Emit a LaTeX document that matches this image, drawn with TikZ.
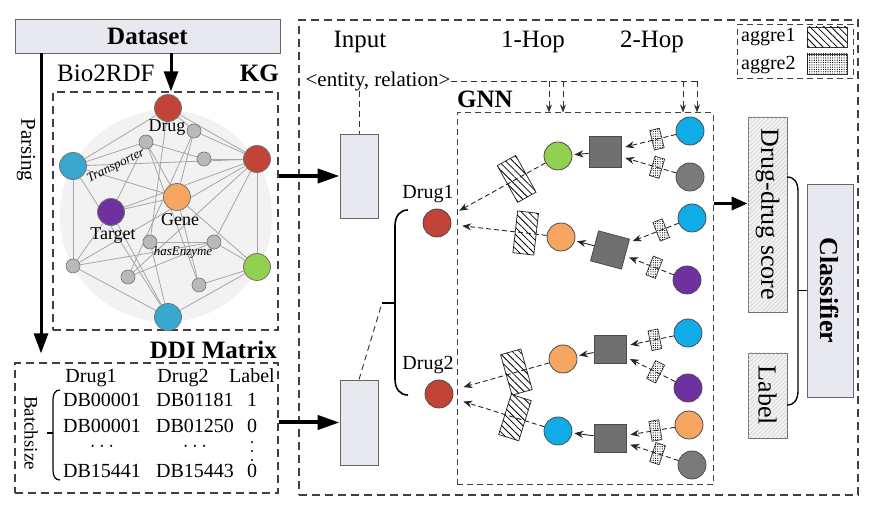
\documentclass[tikz,border=0pt]{standalone}
\usepackage{fontspec}
\setmainfont{Liberation Serif}
\usetikzlibrary{arrows.meta,patterns,patterns.meta,backgrounds,calc}
\definecolor{redc}{RGB}{194,68,56}
\definecolor{kblue}{RGB}{56,168,208}
\definecolor{cyanc}{RGB}{16,172,232}
\definecolor{greenc}{RGB}{146,208,80}
\definecolor{orangec}{RGB}{246,166,96}
\definecolor{purplec}{RGB}{112,48,160}
\definecolor{grayc}{RGB}{122,122,122}
\definecolor{sqc}{RGB}{112,112,112}
\definecolor{boxc}{RGB}{232,232,240}
\newcommand\fsz[1]{\fontsize{#1}{#1}\selectfont}
\begin{document}
\begin{tikzpicture}[x=1pt,y=-1pt,
  dbox/.style={draw=black!75,line width=1.2pt,dash pattern=on 8pt off 5pt,inner sep=0},
  dboxs/.style={draw=black!75,line width=1pt,dash pattern=on 6pt off 4pt,inner sep=0},
  gbox/.style={draw=black!60,fill=boxc,line width=0.9pt,inner sep=0},
  hbox/.style={draw=black!55,fill=gray!10,line width=0.9pt,inner sep=0,font=\fsz{26},
    postaction={pattern={Lines[angle=45,distance=3pt,line width=0.4pt]},pattern color=gray!45}},
  txt/.style={inner sep=0,font=\fsz{25}},
  btxt/.style={inner sep=0,font=\fsz{25}\bfseries},
  kge/.style={draw=gray!70,line width=0.8pt},
  kn/.style={circle,draw=black!55,line width=0.8pt,minimum size=27pt,inner sep=0},
  ks/.style={circle,draw=black!55,fill=gray!55,line width=0.6pt,minimum size=14pt,inner sep=0},
  kl/.style={inner sep=0,font=\fsz{18}},
  gc/.style={circle,draw=black!70,line width=0.8pt,minimum size=28pt,inner sep=0},
  sqn/.style={rectangle,draw=black!70,fill=sqc,line width=0.8pt,minimum width=32pt,minimum height=31pt,inner sep=0},
  patA/.style={fill=white,postaction={pattern={Lines[angle=-45,distance=5pt,line width=0.8pt]}}},
  patB/.style={fill=white,postaction={pattern={Dots[distance=2.3pt,radius=0.6pt]}}},
  aggA/.style={rectangle,draw=black!80,line width=0.8pt,patA,minimum width=21pt,minimum height=42pt,inner sep=0},
  aggB/.style={rectangle,draw=black!80,line width=0.7pt,patB,minimum width=10pt,minimum height=20pt,inner sep=0},
  dar/.style={draw=black!85,line width=0.9pt,dash pattern=on 5pt off 3pt,-{Stealth[length=9pt,width=7pt]}},
  sar/.style={draw=black!85,line width=0.9pt,-{Stealth[length=9pt,width=7pt]}},
  dl/.style={draw=black!80,line width=0.9pt,dash pattern=on 6pt off 4pt},
  arA/.style={line width=3pt,-{Triangle[length=20pt,width=14pt]}},
  arB/.style={line width=4pt,-{Triangle[length=22pt,width=14pt]}},
  arC/.style={line width=3.5pt,-{Triangle[length=16pt,width=13pt]}},
]
\useasboundingbox (0,0) rectangle (887,518);

% ---------- Dataset ----------
\node[gbox,minimum width=265pt,minimum height=34pt,font=\fsz{25}\bfseries] (ds) at (147.5,36) {Dataset};

% ---------- KG ----------
\node[dbox,minimum width=225pt,minimum height=238pt] (kgbox) at (165.5,211) {};
\node[txt,anchor=base west] (bio) at (57,82) {Bio2RDF};
\node[btxt,anchor=base east] (kgl) at (279,82) {KG};
\draw[arA] (ds.south -| 171,0) -- (kgbox.north -| 171,0);

\node[kn,fill=redc] (R1) at (168,108) {};
\node[kn,fill=redc] (R2) at (257,159) {};
\node[kn,fill=kblue] (B1) at (73,166) {};
\node[kn,fill=orangec] (G) at (177,197) {};
\node[kn,fill=purplec] (T) at (111,212) {};
\node[kn,fill=greenc] (Gr) at (257,267) {};
\node[kn,fill=kblue] (B2) at (168,317) {};
\node[ks] (s1) at (194,131) {};
\node[ks] (s2) at (146,142) {};
\node[ks] (s3) at (204,159) {};
\node[ks] (s4) at (150,242) {};
\node[ks] (s5) at (214,242) {};
\node[ks] (s6) at (73,266) {};
\node[ks] (s7) at (128,277) {};
\node[ks] (s8) at (199,285) {};
\begin{scope}[on background layer]
  \fill[gray!10] (166,216) circle (106pt);
  \foreach \u/\v in {R1/B1,R1/R2,R1/s1,R1/s4,s1/R2,s1/s7,s1/G,s2/B1,s2/s3,s2/T,s2/G,s2/s8,s3/R2,B1/R2,B1/G,B1/s6,B1/B2,T/G,T/R2,T/s6,T/B2,G/Gr,G/s8,R2/Gr,R2/s5,R2/s6,R2/s7,s4/s5,s4/B2,s5/Gr,s5/s7,s6/B2,s6/s5,B2/Gr,s8/Gr}
    \draw[kge] (\u) -- (\v);
\end{scope}
\node[kl] at (167,128) {Drug};
\node[kl] at (180,220) {Gene};
\node[kl] at (113,236) {Target};
\node[inner sep=0,font=\fsz{13}\itshape,rotate=26] at (116,166) {Transporter};
\node[inner sep=0,font=\fsz{13}\itshape] at (183,252) {hasEnzyme};

% ---------- DDI Matrix ----------
\node[btxt,anchor=base east] at (277,359) {DDI Matrix};
\node[dbox,minimum width=263pt,minimum height=130pt] (ddi) at (146.5,428) {};
\begin{scope}[every node/.style={inner sep=0,font=\fsz{20},anchor=base}]
  \node at (91,383) {Drug1};
  \node at (183,383) {Drug2};
  \node at (252,383) {Label};
  \node at (102,407) {DB00001};
  \node at (195,407) {DB01181};
  \node at (252,407) {1};
  \node at (102,433) {DB00001};
  \node at (195,433) {DB01250};
  \node at (252,433) {0};
  \node at (102,452) {$\cdots$};
  \node at (195,452) {$\cdots$};
  \node at (102,478) {DB15441};
  \node at (195,478) {DB15443};
  \node at (252,478) {0};
\end{scope}
\foreach \yy in {442,451,460} \fill (252,\yy) circle (1.2pt);
\node[inner sep=0,font=\fsz{19},rotate=-90] at (31,433) {Batchsize};
\draw[line width=1.2pt] (60,390) .. controls (55,390) and (53,394) .. (53,400) -- (53,470) .. controls (53,476) and (55,480) .. (60,480);
\draw[line width=1.2pt] (47,433) -- (53,433);

% ---------- Parsing ----------
\draw[arA,shorten >=9pt] (ds.south -| 41,0) -- (ddi.north -| 41,0);
\node[txt,font=\fsz{21},rotate=-90] at (26,150) {Parsing};

% ---------- main box ----------
\node[dbox,minimum width=559pt,minimum height=475pt] (mainbox) at (578.5,257.5) {};
\node[txt] (inl) at (360,42) {Input};
\node[txt] (h1) at (533,42) {1-Hop};
\node[txt] (h2) at (652,42) {2-Hop};
\node[txt,font=\fsz{21}] (er) at (378,81) {<entity, relation>};

\node[gbox,minimum width=38pt,minimum height=84pt] (inp1) at (359,176) {};
\node[gbox,minimum width=38pt,minimum height=85pt] (inp2) at (359,422.5) {};
\draw[dl] (er.south -| inp1.north) -- (inp1.north);
\draw[arB] (kgbox.east |- inp1.west) -- (inp1.west);
\draw[arB] (ddi.east |- inp2.west) -- (inp2.west);

% ---------- GNN ----------
\node[dboxs,minimum width=256pt,minimum height=372pt] (gnn) at (585,299) {};
\node[btxt,anchor=base west] at (457,108) {GNN};
\draw[dl] (er.east) -- (697,81);
\foreach \xx in {549,563,683,697}
  \draw[dl,-{Stealth[length=8pt,width=6pt]}] (\xx,81) -- (gnn.north -| \xx,0);

% drugs
\node[gc,fill=redc] (d1) at (437,223) {};
\node[inner sep=0,font=\fsz{20}] at (428,194) {Drug1};
\node[gc,fill=redc] (d2) at (439,394) {};
\node[inner sep=0,font=\fsz{20}] at (428,365) {Drug2};
\draw[line width=1.6pt] (408,210) .. controls (400,210) and (395,216) .. (395,226) -- (395,379) .. controls (395,389) and (400,395) .. (408,395);
\coordinate (bt) at (382,303);
\draw[line width=1.2pt] (bt) -- (395,303);
\draw[dl] (inp2.north) -- (bt);

% Tree A
\node[gc,fill=cyanc] (a1) at (690,131) {};
\node[gc,fill=grayc] (a2) at (690,177) {};
\node[sqn] (as) at (605,152) {};
\node[gc,fill=greenc] (ac) at (558,156) {};
\path (a1) -- node[sloped,pos=0.35,aggB] (ad1) {} (as);
\path (a2) -- node[sloped,pos=0.35,aggB] (ad2) {} (as);
\path (ac) -- node[sloped,pos=0.3,aggA] (ah) {} (d1);
\draw[dar,shorten >=4pt] (a1) -- (as);
\draw[dar,shorten >=4pt] (a2) -- (as);
\draw[sar,shorten >=2pt] (as) -- (ac);
\draw[dar,shorten >=11pt] (ac) -- (d1);

% Tree B
\node[gc,fill=cyanc] (b1) at (692,218) {};
\node[gc,fill=purplec] (b2) at (687,280) {};
\node[sqn,rotate=-15] (bs) at (610,250) {};
\node[gc,fill=orangec] (bc) at (561,237) {};
\path (b1) -- node[sloped,pos=0.35,aggB] (bd1) {} (bs);
\path (b2) -- node[sloped,pos=0.4,aggB] (bd2) {} (bs);
\path (bc) -- node[sloped,pos=0.22,aggA] (bh) {} (d1);
\draw[dar,shorten >=4pt] (b1) -- (bs);
\draw[dar,shorten >=4pt] (b2) -- (bs);
\draw[sar,shorten >=2pt] (bs) -- (bc);
\draw[dar,shorten >=11pt] (bc) -- (d1);

% Tree C
\node[gc,fill=cyanc] (c1) at (688,333) {};
\node[gc,fill=purplec] (c2) at (688,388) {};
\node[sqn,minimum height=28pt] (cs) at (610,349) {};
\node[gc,fill=orangec] (cc) at (563,359) {};
\path (c1) -- node[sloped,pos=0.4,aggB] (cd1) {} (cs);
\path (c2) -- node[sloped,pos=0.4,aggB] (cd2) {} (cs);
\path (cc) -- node[sloped,pos=0.34,aggA] (ch) {} (d2);
\draw[dar,shorten >=4pt] (c1) -- (cs);
\draw[dar,shorten >=4pt] (c2) -- (cs);
\draw[sar,shorten >=2pt] (cs) -- (cc);
\draw[dar,shorten >=11pt] (cc) -- (d2);

% Tree D
\node[gc,fill=orangec] (e1) at (689,425) {};
\node[gc,fill=grayc] (e2) at (692,465) {};
\node[sqn,minimum height=28pt] (es) at (610,438) {};
\node[gc,fill=cyanc] (ec) at (558,431) {};
\path (e1) -- node[sloped,pos=0.4,aggB] (ed1) {} (es);
\path (e2) -- node[sloped,pos=0.4,aggB] (ed2) {} (es);
\path (ec) -- node[sloped,pos=0.32,aggA] (eh) {} (d2);
\draw[dar,shorten >=4pt] (e1) -- (es);
\draw[dar,shorten >=4pt] (e2) -- (es);
\draw[sar,shorten >=2pt] (es) -- (ec);
\draw[dar,shorten >=11pt] (ec) -- (d2);

% ---------- classifier ----------
\node[hbox,rotate=-90,minimum width=195pt,minimum height=39pt] (dds) at (767.5,214.5) {Drug-drug score};
\node[hbox,rotate=-90,minimum width=85pt,minimum height=39pt] (lab) at (767.5,395.5) {Label};
\node[gbox,rotate=-90,minimum width=213pt,minimum height=46pt,font=\fsz{26}\bfseries] (cls) at (830,290.5) {Classifier};
\coordinate (ddsin) at ($(dds.south)+(0,-11)$);
\draw[arC] (gnn.east |- ddsin) -- (ddsin);
\draw[line width=1.3pt] (787,177) .. controls (795,177) and (798,183) .. (798,192) -- (798,390) .. controls (798,399) and (795,405) .. (787,405);
\draw[line width=1.3pt] (cls.south -| 798,0) -- (cls.south);

% ---------- legend ----------
\node[dboxs,minimum width=116pt,minimum height=54pt] (leg) at (795,52) {};
\node[inner sep=0,font=\fsz{20},anchor=west] (l1) at (741,37) {aggre1};
\node[rectangle,draw=black!80,line width=0.8pt,patA,minimum width=40pt,minimum height=20pt,inner sep=0] (sw1) at (827,37) {};
\node[inner sep=0,font=\fsz{20},anchor=west] (l2) at (741,65) {aggre2};
\node[rectangle,draw=black!80,line width=0.8pt,patB,minimum width=40pt,minimum height=20pt,inner sep=0] (sw2) at (827,64) {};
\end{tikzpicture}
\end{document}
